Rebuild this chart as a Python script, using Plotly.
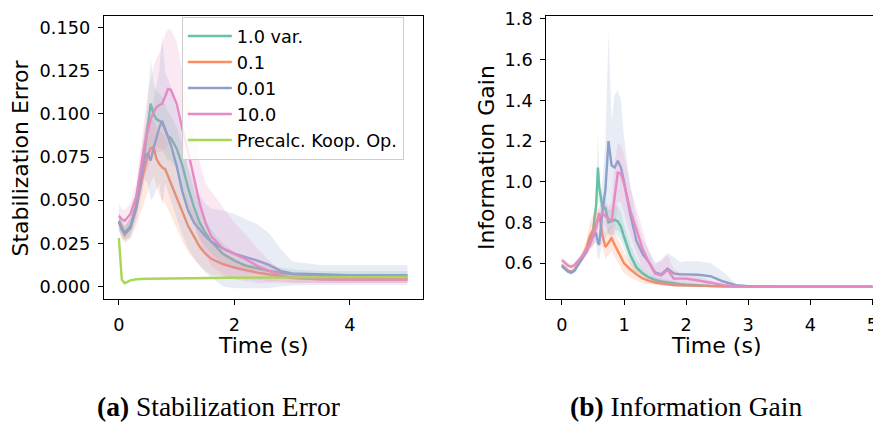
import plotly.graph_objects as go

# ---------------- data: left panel (Stabilization Error) ----------------
TL = [0, 0.05, 0.1, 0.2, 0.3, 0.4, 0.45, 0.5, 0.55, 0.6, 0.65, 0.7, 0.75, 0.8, 0.85, 0.9,
      1.0, 1.1, 1.2, 1.3, 1.4, 1.5, 1.6, 1.8, 2.0, 2.2, 2.4, 2.6, 2.8, 3.0, 3.5, 4.0, 5.0]

se_green = [0.038, 0.034, 0.031, 0.035, 0.047, 0.066, 0.080, 0.092, 0.106, 0.100, 0.097, 0.096, 0.095, 0.091, 0.087, 0.086,
            0.080, 0.070, 0.057, 0.046, 0.037, 0.031, 0.026, 0.019, 0.015, 0.012, 0.0105, 0.009, 0.008, 0.007, 0.0065, 0.006, 0.006]
se_green_hi = [0.043, 0.038, 0.035, 0.040, 0.053, 0.074, 0.092, 0.108, 0.132, 0.118, 0.113, 0.112, 0.110, 0.106, 0.101, 0.099,
               0.092, 0.082, 0.068, 0.056, 0.046, 0.039, 0.033, 0.025, 0.020, 0.016, 0.014, 0.012, 0.011, 0.010, 0.009, 0.009, 0.009]
se_green_lo = [0.033, 0.030, 0.027, 0.030, 0.041, 0.058, 0.068, 0.076, 0.080, 0.082, 0.081, 0.080, 0.080, 0.076, 0.073, 0.073,
               0.068, 0.058, 0.046, 0.036, 0.028, 0.023, 0.019, 0.013, 0.010, 0.008, 0.007, 0.006, 0.005, 0.004, 0.004, 0.003, 0.003]

se_orange = [0.037, 0.033, 0.030, 0.034, 0.045, 0.062, 0.070, 0.076, 0.080, 0.081, 0.074, 0.071, 0.069, 0.068, 0.064, 0.060,
             0.052, 0.043, 0.035, 0.029, 0.023, 0.019, 0.016, 0.013, 0.011, 0.0095, 0.008, 0.007, 0.006, 0.005, 0.0045, 0.004, 0.004]
se_orange_hi = [0.042, 0.038, 0.035, 0.040, 0.055, 0.080, 0.092, 0.097, 0.098, 0.096, 0.092, 0.090, 0.089, 0.087, 0.083, 0.079,
                0.070, 0.060, 0.050, 0.042, 0.035, 0.029, 0.025, 0.020, 0.016, 0.013, 0.011, 0.010, 0.009, 0.008, 0.007, 0.006, 0.006]
se_orange_lo = [0.032, 0.028, 0.025, 0.028, 0.035, 0.046, 0.050, 0.055, 0.060, 0.064, 0.058, 0.053, 0.050, 0.048, 0.045, 0.041,
                0.034, 0.026, 0.020, 0.016, 0.012, 0.009, 0.007, 0.006, 0.005, 0.004, 0.004, 0.003, 0.003, 0.002, 0.002, 0.002, 0.002]

se_blue = [0.038, 0.033, 0.031, 0.034, 0.046, 0.066, 0.076, 0.077, 0.073, 0.080, 0.086, 0.092, 0.096, 0.091, 0.086, 0.082,
           0.070, 0.055, 0.044, 0.037, 0.033, 0.029, 0.026, 0.022, 0.019, 0.017, 0.015, 0.0125, 0.009, 0.0075, 0.0068, 0.0065, 0.0065]
se_blue_hi = [0.043, 0.038, 0.035, 0.040, 0.054, 0.078, 0.090, 0.096, 0.098, 0.108, 0.116, 0.125, 0.146, 0.124, 0.120, 0.116,
              0.102, 0.085, 0.070, 0.060, 0.053, 0.048, 0.045, 0.044, 0.042, 0.039, 0.036, 0.031, 0.022, 0.0145, 0.0125, 0.0125, 0.0125]
se_blue_lo = [0.033, 0.028, 0.027, 0.028, 0.038, 0.054, 0.062, 0.060, 0.050, 0.052, 0.056, 0.060, 0.047, 0.060, 0.055, 0.050,
              0.040, 0.030, 0.022, 0.016, 0.012, 0.008, 0.005, 0.000, -0.001, -0.001, -0.001, -0.001, 0.000, 0.0005, 0.0008, 0.001, 0.001]

se_pink = [0.041, 0.039, 0.038, 0.042, 0.052, 0.072, 0.083, 0.090, 0.097, 0.101, 0.104, 0.105, 0.106, 0.110, 0.1145, 0.114,
           0.106, 0.091, 0.078, 0.063, 0.048, 0.037, 0.029, 0.022, 0.019, 0.0158, 0.0118, 0.009, 0.0065, 0.005, 0.004, 0.004, 0.004]
se_pink_hi = [0.048, 0.045, 0.044, 0.048, 0.060, 0.085, 0.100, 0.112, 0.120, 0.128, 0.132, 0.135, 0.140, 0.146, 0.149, 0.149,
              0.142, 0.125, 0.108, 0.090, 0.072, 0.060, 0.055, 0.046, 0.037, 0.030, 0.022, 0.015, 0.010, 0.008, 0.007, 0.007, 0.007]
se_pink_lo = [0.036, 0.034, 0.033, 0.036, 0.044, 0.058, 0.064, 0.068, 0.074, 0.076, 0.078, 0.078, 0.078, 0.080, 0.082, 0.080,
              0.072, 0.060, 0.048, 0.036, 0.026, 0.018, 0.012, 0.007, 0.004, 0.003, 0.002, 0.002, 0.002, 0.002, 0.002, 0.002, 0.002]

se_lime = [0.028, 0.004, 0.0018, 0.0035, 0.0042, 0.0045, 0.0045, 0.0045, 0.0045, 0.0045, 0.0046, 0.0046, 0.0046, 0.0046, 0.0046, 0.0047,
           0.0047, 0.0047, 0.0048, 0.0048, 0.0048, 0.0049, 0.0049, 0.0050, 0.0050, 0.0051, 0.0051, 0.0052, 0.0052, 0.0053, 0.0053, 0.0054, 0.0055]

# ---------------- data: right panel (Information Gain) ----------------
TR = [0, 0.05, 0.1, 0.15, 0.2, 0.3, 0.4, 0.45, 0.5, 0.55, 0.58, 0.6, 0.65, 0.7, 0.75, 0.8, 0.85, 0.9, 0.95,
      1.0, 1.1, 1.2, 1.3, 1.4, 1.5, 1.6, 1.7, 1.8, 1.9, 2.0, 2.2, 2.4, 2.6, 2.8, 3.0, 3.5, 4.0, 5.0]

ig_green = [0.590, 0.575, 0.562, 0.557, 0.565, 0.615, 0.665, 0.700, 0.760, 0.880, 1.070, 0.975, 0.880, 0.870, 0.800, 0.805, 0.814, 0.805, 0.780,
            0.730, 0.640, 0.580, 0.550, 0.530, 0.518, 0.510, 0.505, 0.500, 0.497, 0.494, 0.490, 0.488, 0.487, 0.486, 0.485, 0.485, 0.485, 0.485]
ig_green_hi = [0.600, 0.585, 0.572, 0.567, 0.575, 0.628, 0.680, 0.720, 0.790, 0.950, 1.240, 1.050, 0.930, 0.920, 0.860, 0.870, 0.885, 0.880, 0.850,
               0.790, 0.690, 0.620, 0.575, 0.550, 0.535, 0.525, 0.518, 0.512, 0.507, 0.503, 0.497, 0.493, 0.491, 0.489, 0.488, 0.487, 0.487, 0.487]
ig_green_lo = [0.580, 0.565, 0.552, 0.547, 0.555, 0.602, 0.650, 0.680, 0.730, 0.810, 0.900, 0.900, 0.830, 0.820, 0.740, 0.740, 0.745, 0.730, 0.710,
               0.670, 0.590, 0.540, 0.525, 0.510, 0.501, 0.495, 0.492, 0.488, 0.487, 0.485, 0.483, 0.483, 0.483, 0.483, 0.482, 0.483, 0.483, 0.483]

ig_orange = [0.590, 0.575, 0.562, 0.556, 0.565, 0.615, 0.680, 0.735, 0.760, 0.790, 0.820, 0.846, 0.740, 0.680, 0.700, 0.725, 0.690, 0.660, 0.630,
             0.600, 0.570, 0.545, 0.525, 0.513, 0.505, 0.500, 0.496, 0.493, 0.491, 0.490, 0.488, 0.487, 0.486, 0.485, 0.485, 0.485, 0.485, 0.485]
ig_orange_hi = [0.600, 0.585, 0.572, 0.566, 0.575, 0.630, 0.720, 0.800, 0.840, 0.860, 0.870, 0.870, 0.800, 0.750, 0.770, 0.790, 0.750, 0.720, 0.690,
                0.650, 0.610, 0.575, 0.550, 0.530, 0.518, 0.510, 0.504, 0.500, 0.497, 0.495, 0.492, 0.490, 0.489, 0.488, 0.487, 0.487, 0.487, 0.487]
ig_orange_lo = [0.580, 0.565, 0.552, 0.546, 0.555, 0.600, 0.640, 0.670, 0.680, 0.720, 0.770, 0.800, 0.680, 0.620, 0.640, 0.660, 0.630, 0.600, 0.575,
                0.550, 0.530, 0.515, 0.500, 0.496, 0.492, 0.490, 0.488, 0.486, 0.485, 0.485, 0.484, 0.484, 0.483, 0.483, 0.483, 0.483, 0.483, 0.483]

ig_blue = [0.585, 0.570, 0.558, 0.553, 0.562, 0.610, 0.660, 0.700, 0.730, 0.750, 0.700, 0.690, 0.850, 0.960, 1.200, 1.080, 1.070, 1.103, 1.070,
           1.000, 0.840, 0.710, 0.645, 0.605, 0.555, 0.545, 0.573, 0.550, 0.545, 0.545, 0.543, 0.535, 0.510, 0.492, 0.487, 0.485, 0.485, 0.485]
ig_blue_hi = [0.595, 0.580, 0.568, 0.563, 0.572, 0.625, 0.680, 0.730, 0.770, 0.800, 0.780, 0.800, 1.000, 1.200, 1.740, 1.300, 1.430, 1.450, 1.400,
              1.220, 0.980, 0.820, 0.720, 0.660, 0.605, 0.610, 0.650, 0.630, 0.605, 0.610, 0.610, 0.600, 0.555, 0.500, 0.490, 0.487, 0.487, 0.487]
ig_blue_lo = [0.575, 0.560, 0.548, 0.543, 0.552, 0.595, 0.640, 0.670, 0.690, 0.700, 0.620, 0.620, 0.700, 0.720, 0.750, 0.780, 0.760, 0.760, 0.740,
              0.700, 0.620, 0.560, 0.540, 0.520, 0.500, 0.490, 0.490, 0.485, 0.485, 0.483, 0.482, 0.480, 0.480, 0.483, 0.484, 0.483, 0.483, 0.483]

ig_pink = [0.615, 0.600, 0.588, 0.583, 0.590, 0.625, 0.665, 0.690, 0.730, 0.780, 0.810, 0.830, 0.845, 0.830, 0.815, 0.805, 0.930, 1.045, 1.040,
           0.990, 0.860, 0.760, 0.669, 0.605, 0.548, 0.540, 0.567, 0.525, 0.525, 0.524, 0.515, 0.503, 0.492, 0.487, 0.485, 0.485, 0.485, 0.485]
ig_pink_hi = [0.630, 0.615, 0.602, 0.597, 0.605, 0.640, 0.685, 0.720, 0.770, 0.830, 0.860, 0.880, 0.900, 0.890, 0.880, 0.900, 1.100, 1.190, 1.180,
              1.130, 0.980, 0.870, 0.770, 0.660, 0.590, 0.620, 0.640, 0.570, 0.555, 0.550, 0.535, 0.515, 0.500, 0.490, 0.488, 0.487, 0.487, 0.487]
ig_pink_lo = [0.600, 0.585, 0.574, 0.569, 0.575, 0.610, 0.645, 0.660, 0.690, 0.730, 0.760, 0.780, 0.790, 0.770, 0.750, 0.710, 0.760, 0.900, 0.900,
              0.850, 0.740, 0.650, 0.570, 0.550, 0.510, 0.500, 0.500, 0.490, 0.495, 0.498, 0.495, 0.490, 0.485, 0.484, 0.483, 0.483, 0.483, 0.483]

labels = ["1.0 var.", "0.1", "0.01", "10.0", "Precalc. Koop. Op."]
colors = ["#66c2a5", "#fc8d62", "#8da0cb", "#e78ac3", "#a6d854"]
fills = ["rgba(102,194,165,0.2)", "rgba(252,141,98,0.2)", "rgba(141,160,203,0.2)",
         "rgba(231,138,195,0.2)", "rgba(166,216,84,0.2)"]

x_ticks_left = [0, 2, 4]
x_ticks_right = [0, 1, 2, 3, 4, 5]
y_ticks_left = [0.0, 0.025, 0.05, 0.075, 0.1, 0.125, 0.15]
y_ticks_right = [0.6, 0.8, 1.0, 1.2, 1.4, 1.6, 1.8]

W, H = 881, 423
OFF = 8  # the page body has an 8px default margin; positions below are window pixels


def px(x):
    return (x - OFF) / W


def py(y):
    return (H - (y - OFF)) / H


fig = go.Figure()

left_series = [(se_green, se_green_lo, se_green_hi), (se_orange, se_orange_lo, se_orange_hi),
               (se_blue, se_blue_lo, se_blue_hi), (se_pink, se_pink_lo, se_pink_hi)]
right_series = [(ig_green, ig_green_lo, ig_green_hi), (ig_orange, ig_orange_lo, ig_orange_hi),
                (ig_blue, ig_blue_lo, ig_blue_hi), (ig_pink, ig_pink_lo, ig_pink_hi)]

LW = 2.4
for i, (m, lo, hi) in enumerate(left_series):
    fig.add_trace(go.Scatter(x=TL, y=m, mode="lines", line=dict(color=colors[i], width=LW),
                             name=labels[i], xaxis="x", yaxis="y", showlegend=True))
    fig.add_trace(go.Scatter(x=TL + TL[::-1], y=hi + lo[::-1], fill="toself", fillcolor=fills[i],
                             line=dict(width=0), mode="lines", hoverinfo="skip",
                             xaxis="x", yaxis="y", showlegend=False))
fig.add_trace(go.Scatter(x=TL, y=se_lime, mode="lines", line=dict(color=colors[4], width=LW),
                         name=labels[4], xaxis="x", yaxis="y", showlegend=True))

for i, (m, lo, hi) in enumerate(right_series):
    fig.add_trace(go.Scatter(x=TR, y=m, mode="lines", line=dict(color=colors[i], width=LW),
                             name=labels[i], xaxis="x2", yaxis="y2", showlegend=False))
    fig.add_trace(go.Scatter(x=TR + TR[::-1], y=hi + lo[::-1], fill="toself", fillcolor=fills[i],
                             line=dict(width=0), mode="lines", hoverinfo="skip",
                             xaxis="x2", yaxis="y2", showlegend=False))

FONT = "DejaVu Sans"
TICKF = dict(family=FONT, size=17.7, color="black")
axis_common = dict(showgrid=False, zeroline=False, showline=True, linecolor="black", linewidth=1.2,
                   ticks="outside", ticklen=5, tickwidth=1.2, tickcolor="black", tickfont=TICKF,
                   ticklabelstandoff=4, ticklabeloverflow="allow")

fig.update_layout(
    width=W, height=H, margin=dict(l=0, r=0, t=0, b=0),
    paper_bgcolor="white", plot_bgcolor="white",
    xaxis=dict(domain=[px(104), px(423)], range=[-0.26, 5.26], tickvals=x_ticks_left,
               mirror=True, anchor="y", **axis_common),
    yaxis=dict(domain=[py(297), py(9)], range=[-0.0074, 0.1568], tickvals=y_ticks_left,
               tickformat=".3f", mirror=True, anchor="x", **axis_common),
    xaxis2=dict(domain=[px(547), 1.0], range=[-0.25, 5.25], tickvals=x_ticks_right,
                mirror=True, anchor="y2", **axis_common),
    yaxis2=dict(domain=[py(297), py(9)], range=[0.423, 1.8145], tickvals=y_ticks_right,
                tickformat=".1f", mirror=True, anchor="x2", **axis_common),
    legend=dict(x=px(182), y=py(10), xanchor="left", yanchor="top", itemwidth=44,
                bgcolor="rgba(255,255,255,0.8)", bordercolor="#cccccc", borderwidth=1,
                font=dict(family=FONT, size=17.7, color="black"), tracegroupgap=0),
)

TITLEF = dict(family=FONT, size=22, color="black")
CAPF = dict(family="Liberation Serif", size=27.5, color="black")
ann = [
    dict(text="Stabilization Error", x=px(21), y=py(153), textangle=-90, font=TITLEF),
    dict(text="Information Gain", x=px(487), y=py(153), textangle=-90, font=TITLEF),
    dict(text="Time (s)", x=px(263), y=py(344), font=TITLEF),
    dict(text="Time (s)", x=px(717), y=py(344), font=TITLEF),
    dict(text="<b>(a)</b> Stabilization Error", x=px(219), y=py(406), font=CAPF),
    dict(text="<b>(b)</b> Information Gain", x=px(687), y=py(406), font=CAPF),
]
for a in ann:
    a.update(xref="paper", yref="paper", showarrow=False, xanchor="center", yanchor="middle")
fig.update_layout(annotations=ann)

fig.write_html("out.html")
